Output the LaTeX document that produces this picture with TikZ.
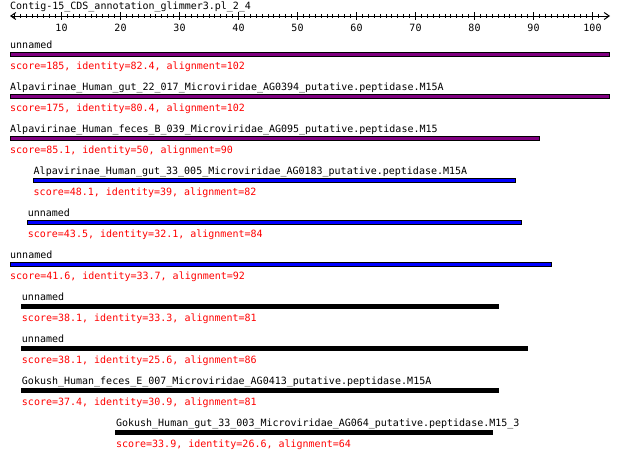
\documentclass[tikz,border=0pt]{standalone}
\usepackage{fontspec}
\setmonofont{DejaVu Sans Mono}
\usetikzlibrary{arrows.meta}
\definecolor{hitpurple}{RGB}{128,0,128}
\definecolor{hitblue}{RGB}{0,0,255}
\definecolor{hitred}{RGB}{255,0,0}
\newcommand\hitrow[6]{%
  \node[lbl] (l#1) at ({10+5.882*#2}, {48+42*#1}) {#5};
  \draw[hitbar, fill=#4] ({10+5.882*#2}, {52.2+42*#1}) rectangle ({10+5.882*(#2+#3)}, {56+42*#1});
  \node[lbl, text=hitred] (s#1) at ({10+5.882*#2}, {69+42*#1}) {#6};
}
\begin{document}
\begin{tikzpicture}[x=1pt, y=-1pt,
  lbl/.style={anchor=base west, inner sep=0pt, font=\ttfamily\fontsize{10}{12}\selectfont},
  ticklbl/.style={anchor=base, inner sep=0pt, font=\ttfamily\fontsize{10}{12}\selectfont},
  hitbar/.style={draw=black, line width=1pt},
  axisline/.style={line width=1pt, {Straight Barb[length=5pt,width=7pt]}-{Straight Barb[length=5pt,width=7pt]}},
  tickline/.style={line width=1pt}]
\useasboundingbox[fill=white] (0,0) rectangle (620,461);
\node[lbl] (title) at (10,9) {Contig-15\_CDS\_annotation\_glimmer3.pl\_2\_4};
\coordinate (axL) at (10,16);
\coordinate (axR) at (610,16);
\draw[axisline] (axL) -- (axR);
\foreach \v in {2,...,101} \draw[tickline] ({2.5+5.9*\v},14) -- ++(0,4);
\foreach \v in {10,20,...,100} {
  \draw[tickline] ({2.5+5.9*\v},12) -- ++(0,8);
  \node[ticklbl] (t\v) at ({2.5+5.9*\v},31.5) {\v};
}
\hitrow{0}{0}{102}{hitpurple}{unnamed}{score=185, identity=82.4, alignment=102}
\hitrow{1}{0}{102}{hitpurple}{Alpavirinae\_Human\_gut\_22\_017\_Microviridae\_AG0394\_putative.peptidase.M15A}{score=175, identity=80.4, alignment=102}
\hitrow{2}{0}{90}{hitpurple}{Alpavirinae\_Human\_feces\_B\_039\_Microviridae\_AG095\_putative.peptidase.M15}{score=85.1, identity=50, alignment=90}
\hitrow{3}{4}{82}{hitblue}{Alpavirinae\_Human\_gut\_33\_005\_Microviridae\_AG0183\_putative.peptidase.M15A}{score=48.1, identity=39, alignment=82}
\hitrow{4}{3}{84}{hitblue}{unnamed}{score=43.5, identity=32.1, alignment=84}
\hitrow{5}{0}{92}{hitblue}{unnamed}{score=41.6, identity=33.7, alignment=92}
\hitrow{6}{2}{81}{black}{unnamed}{score=38.1, identity=33.3, alignment=81}
\hitrow{7}{2}{86}{black}{unnamed}{score=38.1, identity=25.6, alignment=86}
\hitrow{8}{2}{81}{black}{Gokush\_Human\_feces\_E\_007\_Microviridae\_AG0413\_putative.peptidase.M15A}{score=37.4, identity=30.9, alignment=81}
\hitrow{9}{18}{64}{black}{Gokush\_Human\_gut\_33\_003\_Microviridae\_AG064\_putative.peptidase.M15\_3}{score=33.9, identity=26.6, alignment=64}
\end{tikzpicture}
\end{document}
